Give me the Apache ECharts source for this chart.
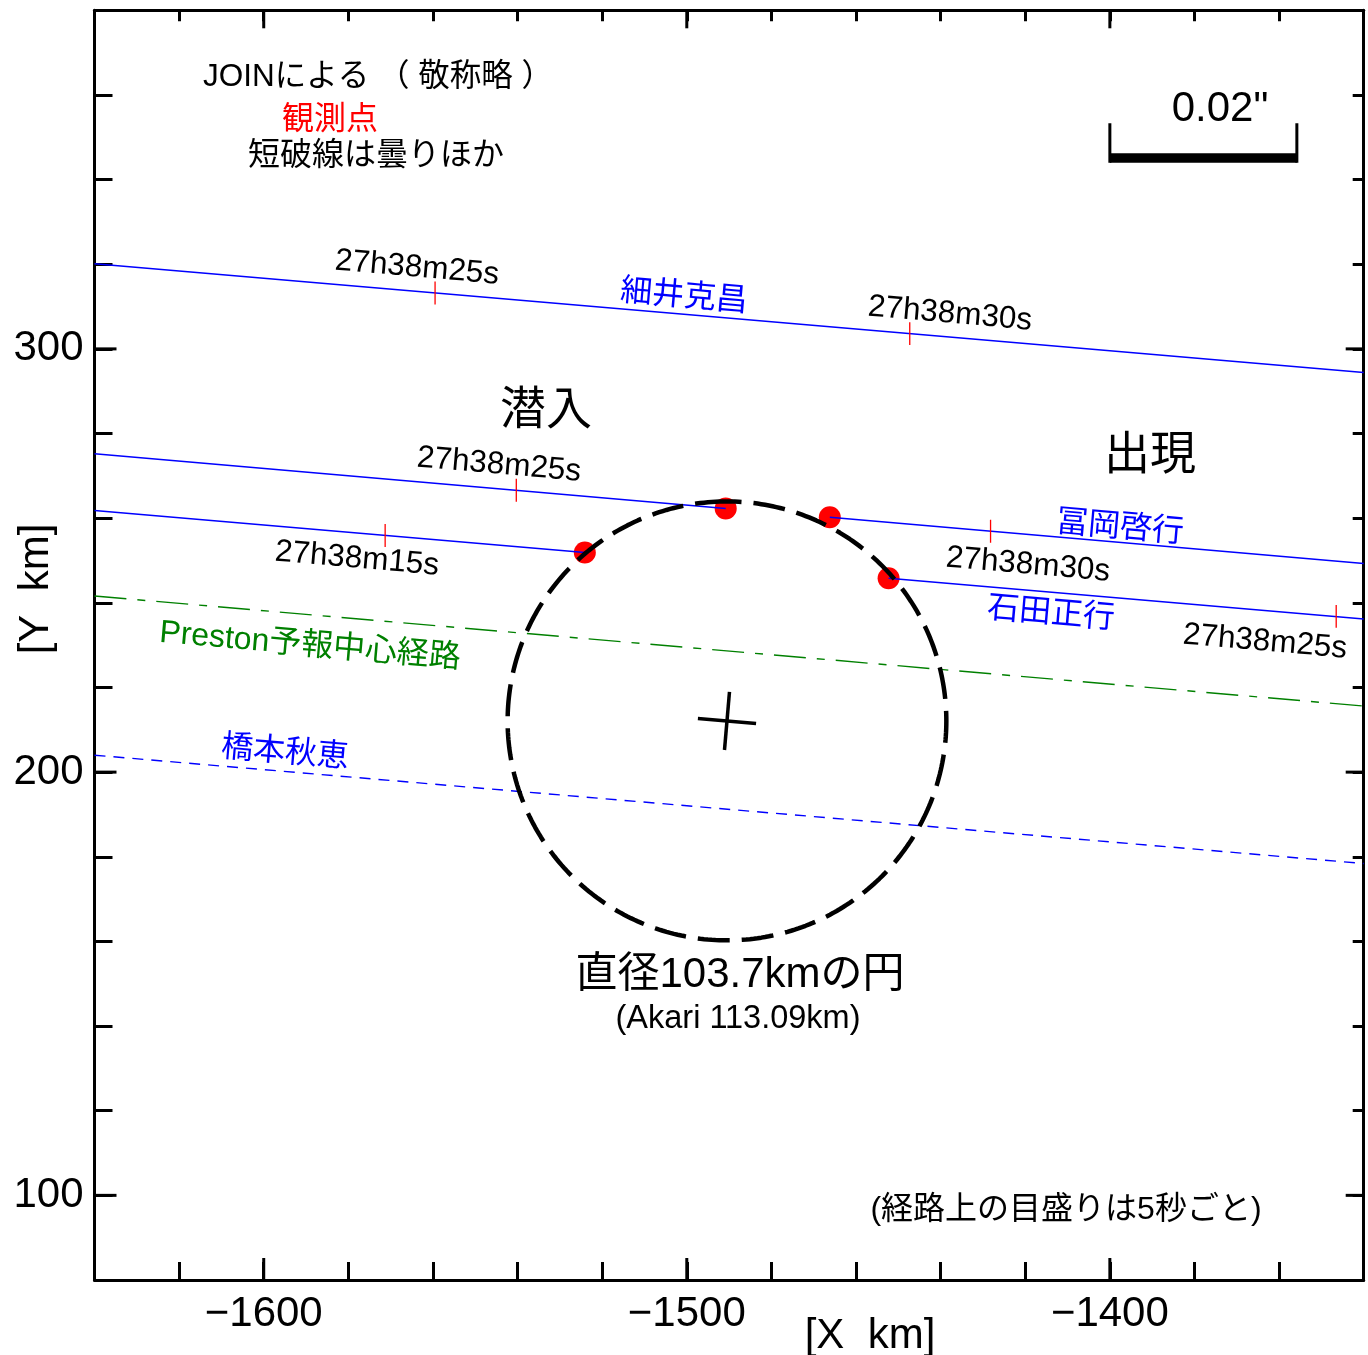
<!DOCTYPE html>
<html><head><meta charset="utf-8">
<script src="https://cdn.jsdelivr.net/npm/echarts@6/dist/echarts.min.js"></script>
<style>html,body{margin:0;padding:0;background:#fff}#c{width:1368px;height:1355px}</style>
</head><body><div id="c"></div>
<script>
// ---------- data (km) ----------
const xEdges = [-1640, -1340];
const hosoiY = [320.1, 294.4];        // 細井克昌 (solid)
const tomiokaY = [275.2, 249.3];      // 冨岡啓行 (solid)
const ishidaY = [261.8, 236.2];       // 石田正行 (solid)
const prestonY = [241.6, 215.6];      // Preston予報中心経路 (dash-dot)
const hashimotoY = [204.0, 178.4];    // 橋本秋恵 (cloudy, dashed)
const tomiokaEvents = [[-1490.8, 262.3], [-1466.2, 260.2]];  // disappear, reappear
const ishidaEvents = [[-1524.1, 251.9], [-1452.3, 245.8]];
const hosoiTicks = [[-1559.5, 313.2], [-1447.3, 303.6]];
const tomiokaTicks = [[-1540.3, 266.6], [-1428.2, 256.9]];
const ishidaTicks = [[-1571.3, 255.9], [-1346.5, 236.8]];
const hosoiTickLabels = ['27h38m25s', '27h38m30s'];
const tomiokaTickLabels = ['27h38m25s', '27h38m30s'];
const ishidaTickLabels = ['27h38m15s', '27h38m25s'];
const circleCenter = [-1490.5, 212.1];
const circleDiameter = 103.7;
const crossHalf = 6.9;
const scaleBarStart = [-1400, 345.1];
const scaleBarKm = 44.2;
const scaleBarTickTop = 353.3;
const scaleBarTickBottom = 344.0;
const tickHalf = 2.7;
const xMajor = [-1600, -1500, -1400];
const yMajor = [100, 200, 300];

// ---------- build ----------
const FONT = "'Liberation Sans', Arial, 'Noto Sans CJK JP', sans-serif";
const BLUE = '#0000ff', RED = '#ff0000', GREEN = '#008000';
function seg(p1, p2, color, width, dash, z) {
  return { type: 'line', data: [p1, p2], symbol: 'none', silent: true, animation: false, z: z || 3,
    lineStyle: { color: color, width: width, type: dash || 'solid', opacity: 1 } };
}
const series = [];
series.push({ type: 'scatter', data: tomiokaEvents.concat(ishidaEvents), symbolSize: 22,
  itemStyle: { color: RED, opacity: 1 }, z: 1, animation: false, silent: true });
series.push(seg([xEdges[0], hosoiY[0]], [xEdges[1], hosoiY[1]], BLUE, 1.5));
series.push(seg([xEdges[0], tomiokaY[0]], tomiokaEvents[0], BLUE, 1.5));
series.push(seg(tomiokaEvents[1], [xEdges[1], tomiokaY[1]], BLUE, 1.5));
series.push(seg([xEdges[0], ishidaY[0]], ishidaEvents[0], BLUE, 1.5));
series.push(seg(ishidaEvents[1], [xEdges[1], ishidaY[1]], BLUE, 1.5));
series.push(seg([xEdges[0], prestonY[0]], [xEdges[1], prestonY[1]], GREEN, 1.4, [32, 11, 8, 11]));
series.push(seg([xEdges[0], hashimotoY[0]], [xEdges[1], hashimotoY[1]], BLUE, 1.4, [11, 8]));
hosoiTicks.concat(tomiokaTicks, ishidaTicks).forEach(function (p) {
  series.push(seg([p[0], p[1] - tickHalf], [p[0], p[1] + tickHalf], RED, 1.3));
});
// circle (diameter 103.7 km)
const circ = [];
for (let i = 0; i <= 360; i++) {
  const a = Math.PI / 2 + i * Math.PI / 180;
  circ.push([circleCenter[0] + circleDiameter / 2 * Math.cos(a), circleCenter[1] + circleDiameter / 2 * Math.sin(a)]);
}
series.push({ type: 'line', data: circ, symbol: 'none', silent: true, animation: false, z: 4,
  lineStyle: { color: '#000', width: 4.5, type: [32, 12] } });
// centre cross, tilted along the path
const slope = (hosoiY[1] - hosoiY[0]) / (xEdges[1] - xEdges[0]);
const th = Math.atan(slope);
const c = Math.cos(th), s = Math.sin(th);
series.push(seg([circleCenter[0] - crossHalf * c, circleCenter[1] - crossHalf * s],
                [circleCenter[0] + crossHalf * c, circleCenter[1] + crossHalf * s], '#000', 3.5, null, 4));
series.push(seg([circleCenter[0] + crossHalf * s, circleCenter[1] - crossHalf * c],
                [circleCenter[0] - crossHalf * s, circleCenter[1] + crossHalf * c], '#000', 3.5, null, 4));
// scale bar 0.02"
series.push(seg(scaleBarStart, [scaleBarStart[0] + scaleBarKm, scaleBarStart[1]], '#000', 9.4, null, 4));
series.push(seg([scaleBarStart[0], scaleBarTickTop], [scaleBarStart[0], scaleBarTickBottom], '#000', 3, null, 4));
series.push(seg([scaleBarStart[0] + scaleBarKm, scaleBarTickTop], [scaleBarStart[0] + scaleBarKm, scaleBarTickBottom], '#000', 3, null, 4));

function fmt(v) {
  const r = Math.round(v);
  if (r % 100 !== 0) return '';
  return r < 0 ? '\u2212' + Math.abs(r) : String(r);
}
function axisBase(extra) {
  return Object.assign({
    type: 'value', splitLine: { show: false }, scale: true,
    axisLine: { show: true, onZero: false, lineStyle: { color: '#000', width: 3 } },
    axisTick: { show: true, inside: true, length: 18, lineStyle: { color: '#000', width: 3 } },
    axisLabel: { show: true, formatter: fmt, fontSize: 42, color: '#000', fontFamily: FONT }
  }, extra);
}
const chart = echarts.init(document.getElementById('c'), null, { renderer: 'canvas' });
chart.setOption({
  animation: false,
  backgroundColor: '#fff',
  grid: { left: 94.5, right: 4.3, top: 10.3, bottom: 75, outerBoundsMode: 'none', containLabel: false },
  xAxis: [
    axisBase({ min: -1640, max: -1340, interval: 20, position: 'bottom',
      axisLabel: { show: true, formatter: fmt, fontSize: 42, color: '#000', fontFamily: FONT, margin: 13 } }),
    axisBase({ min: -1640, max: -1340, interval: 20, position: 'top',
      axisTick: { show: true, inside: true, length: 11, lineStyle: { color: '#000', width: 3 } },
      axisLabel: { show: false } })
  ],
  yAxis: [
    axisBase({ min: 80, max: 380, interval: 20, position: 'left',
      axisLabel: { show: true, formatter: fmt, fontSize: 42, color: '#000', fontFamily: FONT, margin: 11 } }),
    axisBase({ min: 80, max: 380, interval: 20, position: 'right',
      axisTick: { show: true, inside: true, length: 11, lineStyle: { color: '#000', width: 3 } },
      axisLabel: { show: false } })
  ],
  series: series
});

// ---------- annotations (pixel layout) ----------
const ROT = -Math.atan(0.0866);
const DY = 3;
const texts = [
  { t: 'JOINによる （ 敬称略 ）', x: 378, y: 74, size: 31.5, color: '#000', r: 0 },
  { t: '観測点', x: 330, y: 117, size: 32, color: RED, r: 0 },
  { t: '短破線は曇りほか', x: 376, y: 153, size: 32, color: '#000', r: 0 },
  { t: hosoiTickLabels[0], x: 417, y: 265, size: 31.5, color: '#000', r: ROT },
  { t: '細井克昌', x: 684, y: 294, size: 32, color: BLUE, r: ROT },
  { t: hosoiTickLabels[1], x: 950, y: 311, size: 31.5, color: '#000', r: ROT },
  { t: '潜入', x: 546, y: 408, size: 46, color: '#000', r: 0 },
  { t: '出現', x: 1150, y: 453, size: 46, color: '#000', r: 0 },
  { t: tomiokaTickLabels[0], x: 499, y: 462, size: 31.5, color: '#000', r: ROT },
  { t: '冨岡啓行', x: 1120, y: 525, size: 32, color: BLUE, r: ROT },
  { t: ishidaTickLabels[0], x: 357, y: 556, size: 31.5, color: '#000', r: ROT },
  { t: tomiokaTickLabels[1], x: 1028, y: 562, size: 31.5, color: '#000', r: ROT },
  { t: '石田正行', x: 1051, y: 611, size: 32, color: BLUE, r: ROT },
  { t: ishidaTickLabels[1], x: 1265, y: 639, size: 31.5, color: '#000', r: ROT },
  { t: 'Preston予報中心経路', x: 310, y: 643, size: 32, color: GREEN, r: ROT },
  { t: '橋本秋恵', x: 285, y: 750, size: 32, color: BLUE, r: ROT },
  { t: '直径103.7kmの円', x: 740, y: 972, size: 42, color: '#000', r: 0 },
  { t: '(Akari 113.09km)', x: 738, y: 1016, size: 32.5, color: '#000', r: 0 },
  { t: '(経路上の目盛りは5秒ごと)', x: 1066, y: 1207, size: 32, color: '#000', r: 0 },
  { t: '0.02"', x: 1220, y: 106, size: 42, color: '#000', r: 0 },
  { t: '[X  km]', x: 870, y: 1333, size: 42, color: '#000', r: 0 },
  { t: '[Y  km]', x: 33, y: 589, size: 42, color: '#000', r: Math.PI / 2 }
];
const graphic = texts.map(function (o) {
  const dy = o.r === Math.PI / 2 ? 0 : DY;
  const dx = o.r === Math.PI / 2 ? DY : 0;
  return { type: 'text', x: o.x + dx, y: o.y + dy, rotation: o.r, z: 10, silent: true,
    style: { text: o.t, fill: o.color, fontSize: o.size, fontFamily: FONT, align: 'center', verticalAlign: 'middle' } };
});
// longer major ticks
const xL = chart.convertToPixel({ xAxisIndex: 0 }, -1640), xR = chart.convertToPixel({ xAxisIndex: 0 }, -1340);
const yB = chart.convertToPixel({ yAxisIndex: 0 }, 80), yT = chart.convertToPixel({ yAxisIndex: 0 }, 380);
xMajor.forEach(function (v) {
  const p = chart.convertToPixel({ xAxisIndex: 0 }, v);
  graphic.push({ type: 'line', shape: { x1: p, y1: yB, x2: p, y2: yB - 22 }, style: { stroke: '#000', lineWidth: 3 }, z: 10, silent: true });
  graphic.push({ type: 'line', shape: { x1: p, y1: yT, x2: p, y2: yT + 18 }, style: { stroke: '#000', lineWidth: 3 }, z: 10, silent: true });
});
yMajor.forEach(function (v) {
  const p = chart.convertToPixel({ yAxisIndex: 0 }, v);
  graphic.push({ type: 'line', shape: { x1: xL, y1: p, x2: xL + 22, y2: p }, style: { stroke: '#000', lineWidth: 3 }, z: 10, silent: true });
  graphic.push({ type: 'line', shape: { x1: xR, y1: p, x2: xR - 18, y2: p }, style: { stroke: '#000', lineWidth: 3 }, z: 10, silent: true });
});
chart.setOption({ graphic: graphic });
</script></body></html>
